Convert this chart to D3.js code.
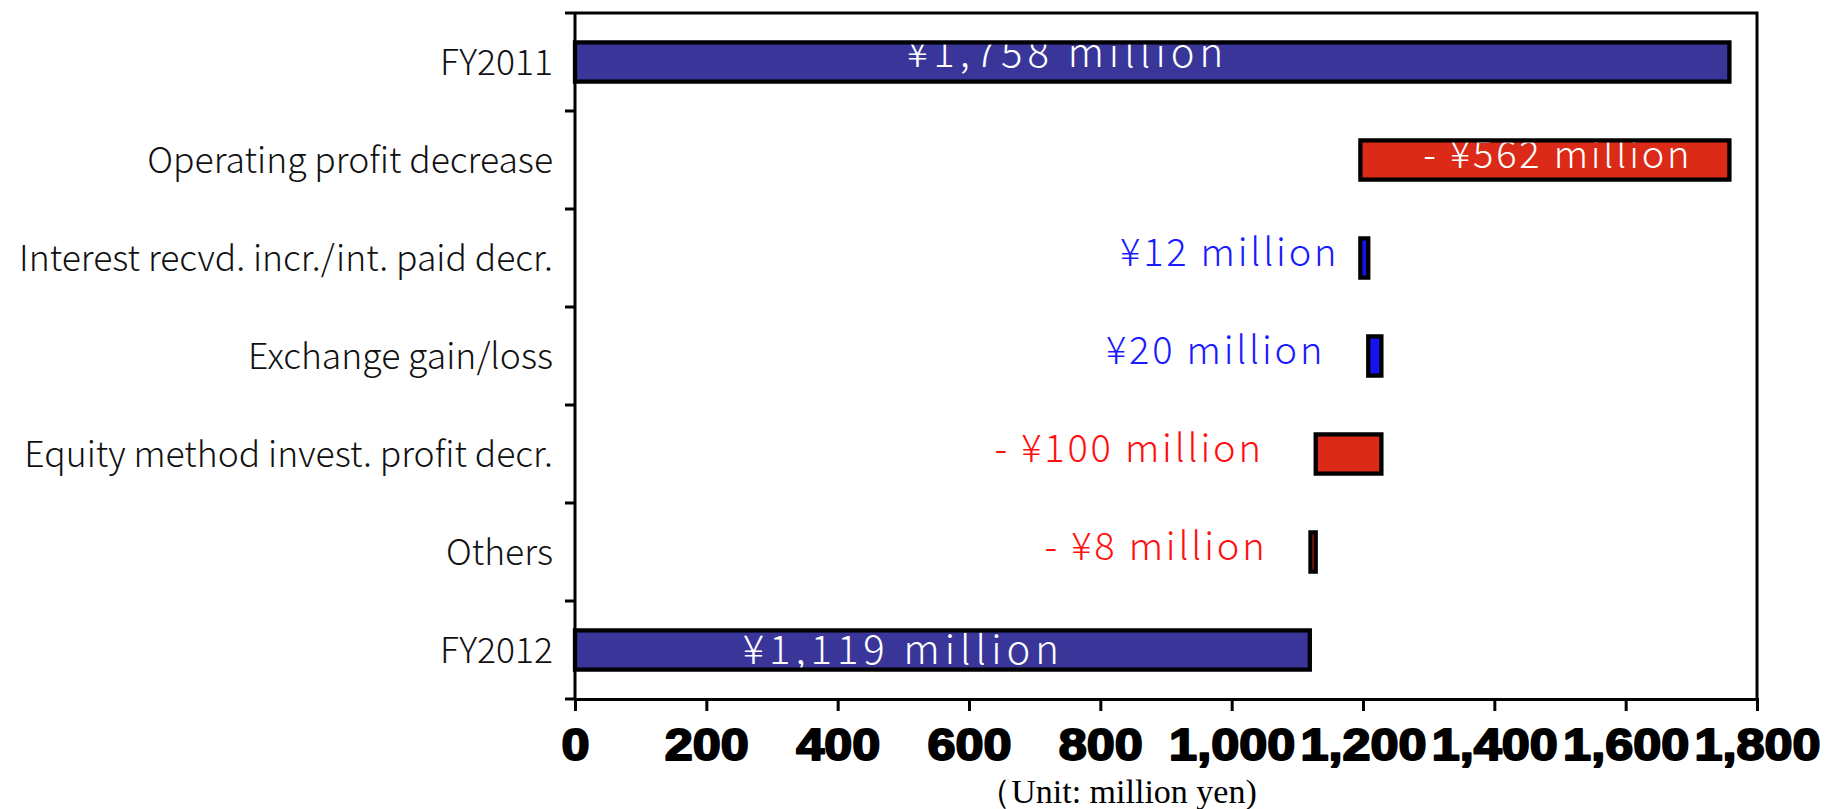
<!DOCTYPE html>
<html>
<head>
<meta charset="utf-8">
<script src="https://cdn.jsdelivr.net/npm/d3@7"></script>
<style>
  html, body { margin: 0; padding: 0; background: #ffffff; }
  svg { display: block; }
</style>
</head>
<body>
<svg id="chart" width="1825" height="809"></svg>
<script>
// Ordinary income bridge, FY2011 -> FY2012 (million yen)
const categories = [
  "FY2011",
  "Operating profit decrease",
  "Interest recvd. incr./int. paid decr.",
  "Exchange gain/loss",
  "Equity method invest. profit decr.",
  "Others",
  "FY2012"
];
const startTotal = 1758;
const endTotal = 1119;
const stepValues = [-562, 12, 20, -100, -8];
const valueLabels = [
  "¥1,758 million",
  "- ¥562 million",
  "¥12 million",
  "¥20 million",
  "- ¥100 million",
  "- ¥8 million",
  "¥1,119 million"
];
const xTicks = [0, 200, 400, 600, 800, 1000, 1200, 1400, 1600, 1800];
const unitLabel = "（Unit: million yen)";

// Build waterfall segments: totals run from 0, steps run from the running level
const segments = [];
segments.push({ cat: categories[0], from: 0, to: startTotal, kind: "total", label: valueLabels[0] });
let level = startTotal;
stepValues.forEach((v, i) => {
  segments.push({
    cat: categories[i + 1], from: level, to: level + v,
    kind: v < 0 ? "down" : "up", label: valueLabels[i + 1]
  });
  level += v;
});
segments.push({ cat: categories[6], from: 0, to: endTotal, kind: "total", label: valueLabels[6] });

const fills = { total: "#3a3699", down: "#dc2a18", up: "#1414f0" };
const textColors = { total: "#ffffff", down: "#ff1010", up: "#1a1aff" };

const plotLeft = 575, plotRight = 1757, plotTop = 13, plotBottom = 699;
const svg = d3.select("#chart");

const x = d3.scaleLinear().domain([0, 1800]).range([plotLeft, plotRight]);
const y = d3.scaleBand().domain(categories).range([plotTop, plotBottom])
  .paddingInner(0.6).paddingOuter(0.3);

const labelFont = "'Noto Sans CJK JP', 'Noto Sans', sans-serif";

// Frame: top and right edges
svg.append("path")
  .attr("d", `M${plotLeft},${plotTop}H${plotRight}V${plotBottom}`)
  .attr("fill", "none").attr("stroke", "#000").attr("stroke-width", 3);

// Y axis with ticks at band boundaries
const bounds = categories.map(c => y(c) - y.step() * y.paddingInner() / 2);
bounds[0] = plotTop;
bounds.push(plotBottom);
svg.append("line").attr("x1", plotLeft).attr("x2", plotLeft).attr("y1", plotTop).attr("y2", plotBottom)
  .attr("stroke", "#000").attr("stroke-width", 3);
svg.selectAll(".ytick").data(bounds).join("line")
  .attr("class", "ytick")
  .attr("x1", plotLeft - 10).attr("x2", plotLeft)
  .attr("y1", d => d).attr("y2", d => d)
  .attr("stroke", "#000").attr("stroke-width", 3);

// Category labels
svg.selectAll(".cat").data(categories).join("text")
  .attr("class", "cat")
  .attr("x", plotLeft - 22)
  .attr("y", d => y(d) + y.bandwidth() / 2)
  .attr("dy", "0.36em")
  .attr("text-anchor", "end")
  .attr("font-family", labelFont)
  .attr("font-weight", 300)
  .attr("font-size", 35.5)
  .attr("fill", "#111")
  .text(d => d);

// X axis with heavy, wide tick numbers
const xAxis = svg.append("g").attr("transform", `translate(0,${plotBottom})`)
  .call(d3.axisBottom(x).tickValues(xTicks).tickSize(12).tickPadding(17)
    .tickFormat(d3.format(",")));
xAxis.select(".domain").attr("stroke-width", 3);
xAxis.selectAll(".tick line").attr("stroke-width", 3);
xAxis.selectAll(".tick text")
  .attr("font-family", "'Liberation Sans', Arial, sans-serif")
  .attr("font-weight", 700)
  .attr("font-size", 45)
  .attr("fill", "#000")
  .attr("stroke", "#000").attr("stroke-width", 2)
  .attr("stroke-linejoin", "round")
  .attr("dy", "0.71em")
  .attr("transform", "scale(1.12,1)");

// Bars: fill first, labels, then outlines on top
const barG = svg.append("g");
barG.selectAll("rect").data(segments).join("rect")
  .attr("x", d => x(Math.min(d.from, d.to)))
  .attr("y", d => y(d.cat))
  .attr("width", d => Math.abs(x(d.to) - x(d.from)))
  .attr("height", y.bandwidth())
  .attr("fill", d => fills[d.kind]);

const labelGap = [null, 37, 21, 43, 52, 43, null];
const labelG = svg.append("g");
labelG.selectAll("text").data(segments).join("text")
  .attr("font-family", labelFont)
  .attr("font-weight", 300)
  .attr("font-size", d => d.kind === "total" ? 40 : 38)
  .attr("letter-spacing", d => d.kind === "total" ? 5 : 2.8)
  .attr("fill", (d, i) => i === 1 ? "#ffffff" : textColors[d.kind])
  .attr("text-anchor", d => d.kind === "total" ? "middle" : "end")
  .attr("x", (d, i) => {
    if (i === 0) return x(750);
    if (i === 6) return x(500);
    if (i === 1) return x(d.from) - labelGap[i];
    return x(Math.min(d.from, d.to)) - labelGap[i];
  })
  .attr("y", (d, i) => {
    const c = y(d.cat) + y.bandwidth() / 2;
    if (i === 0) return y(d.cat) + 25;
    if (i === 6) return c + 13.5;
    return c + 8;
  })
  .text(d => d.label);

svg.append("g").selectAll("rect").data(segments).join("rect")
  .attr("x", d => x(Math.min(d.from, d.to)))
  .attr("y", d => y(d.cat))
  .attr("width", d => Math.abs(x(d.to) - x(d.from)))
  .attr("height", y.bandwidth())
  .attr("fill", "none")
  .attr("stroke", "#000").attr("stroke-width", 4.3);

// Unit note
svg.append("text")
  .attr("x", 1117).attr("y", 803)
  .attr("text-anchor", "middle")
  .attr("font-family", "'Liberation Serif', 'Times New Roman', serif")
  .attr("font-size", 34)
  .attr("fill", "#000")
  .text(unitLabel);
</script>
</body>
</html>
